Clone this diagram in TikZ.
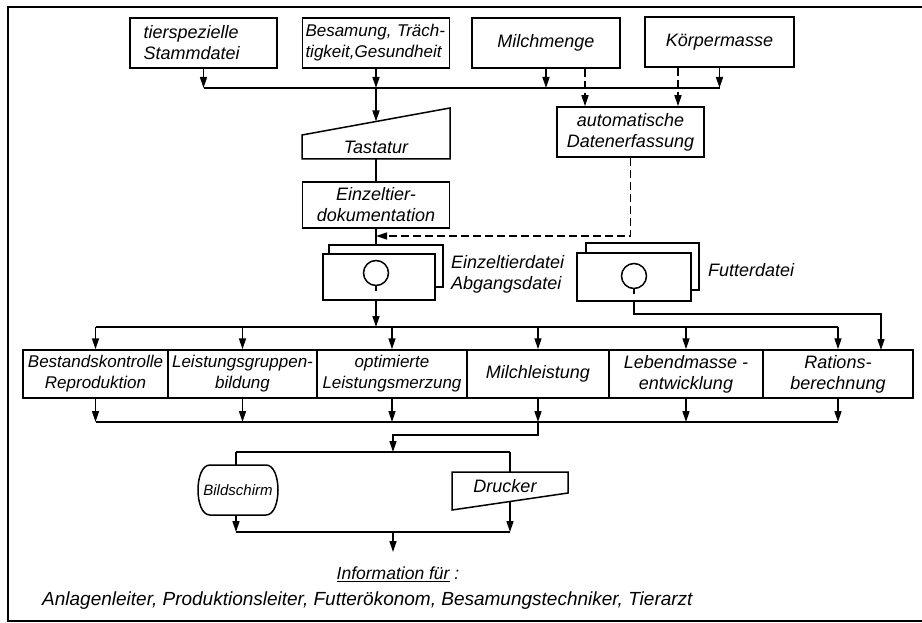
\documentclass[tikz,border=0pt]{standalone}
\usepackage{fontspec}
\setmainfont{Liberation Sans}
\usetikzlibrary{arrows.meta}
\newcommand\dgfont{\itshape\fontsize{17}{21}\selectfont}
\newcommand\topfont{\itshape\fontsize{18}{21}\selectfont}
\begin{document}
\begin{tikzpicture}[x=1pt,y=-1pt,
  lw/.style={line width=1.5pt},
  box/.style={draw,lw,inner sep=2pt,font=\dgfont,align=center},
  tbox/.style={box,font=\topfont},
  lab/.style={font=\dgfont,inner sep=0pt,align=left},
  tip/.style={-{Triangle[length=11pt,width=7pt]}},
  arr/.style={lw,tip},
  dsh/.style={lw,dash pattern=on 8pt off 4pt},
]
\useasboundingbox (0,0) rectangle (922,623);
\draw[line width=2.2pt] (922,7) -- (8,7) -- (8,621) -- (922,621);

% top boxes
\node[tbox,minimum width=147pt,minimum height=50pt,text width=120pt,align=left] (b1) at (203.5,43) {tierspezielle\\Stammdatei};
\node[box,minimum width=147pt,minimum height=50pt,text width=141pt,align=left] (b2) at (376,43) {Besamung, Träch-\\tigkeit,Gesundheit};
\node[tbox,minimum width=148pt,minimum height=50pt] (b3) at (546,43) {Milchmenge};
\node[tbox,minimum width=149pt,minimum height=50pt] (b4) at (719.5,42) {Körpermasse};

\coordinate (busA) at (203.5,88);
\coordinate (busB) at (719.5,88);
\draw[lw] (busA) -- (busB);
\draw[arr] (b1.south) -- (busA);
\draw[arr] (b2.south) -- (b2.south |- busA);
\draw[arr] (b3.south) -- (b3.south |- busA);
\draw[arr] (b4.south) -- (busB);

% automatic data capture
\node[tbox,minimum width=147pt,minimum height=50pt] (de) at (630.5,132) {automatische\\Datenerfassung};
\draw[dsh,tip] ([xshift=39pt]b3.south) -- ([xshift=39pt]b3.south |- de.north);
\draw[dsh,tip] ([xshift=-41.5pt]b4.south) -- ([xshift=-41.5pt]b4.south |- de.north);

% keyboard
\draw[lw] (302,135) -- (450,108) -- (450,159) -- (302,159) -- cycle;
\node[lab,font=\topfont] (ta) at (376,147) {Tastatur};
\coordinate (taTop) at (376,121.5);
\coordinate (taBot) at (376,159);
\draw[arr] (b2.south |- busA) -- (taTop);

% documentation
\node[tbox,minimum width=147pt,minimum height=46pt] (ed) at (376,205) {Einzeltier-\\dokumentation};
\draw[lw] (taBot) -- (ed.north);

% file 1
\node[draw,lw,minimum width=112pt,minimum height=46pt,inner sep=0pt] (f1) at (379,277) {};
\draw[lw] (329,254) -- (329,245) -- (443,245) -- (443,287) -- (435,287);
\draw[lw] (376,273) circle[radius=12.5pt];
\draw[lw] (376,285.5) -- (376,291);
\coordinate (f1in) at (376,245);
\draw[lw] (ed.south) -- (f1in);
\coordinate (ret) at (376,236);
\draw[dsh,tip] (de.south) |- (ret);
\node[lab,anchor=west,font=\topfont] (f1l) at (451,274) {Einzeltierdatei\\Abgangsdatei};

% file 2
\node[draw,lw,minimum width=114pt,minimum height=48pt,inner sep=0pt] (f2) at (634,277) {};
\draw[lw] (586,253) -- (586,243) -- (699,243) -- (699,290) -- (691,290);
\draw[lw] (634,276) circle[radius=12.5pt];
\draw[lw] (634,288.5) -- (634,294);
\node[lab,anchor=west,font=\topfont] (f2l) at (708,270) {Futterdatei};

% evaluation row
\node[box,minimum width=145pt,minimum height=48pt] (r1) at (95.5,374) {Bestandskontrolle\\Reproduktion};
\node[box,minimum width=149pt,minimum height=48pt] (r2) at (242.5,374) {Leistungsgruppen-\\bildung};
\node[box,minimum width=150pt,minimum height=48pt] (r3) at (392,374) {optimierte\\Leistungsmerzung};
\node[box,minimum width=142pt,minimum height=48pt,font=\topfont] (r4) at (538,374) {Milchleistung};
\node[box,minimum width=154pt,minimum height=48pt,font=\topfont] (r5) at (686,374) {Lebendmasse -\\entwicklung};
\node[box,minimum width=150pt,minimum height=48pt,font=\topfont] (r6) at (838,374) {Rations-\\berechnung};

\coordinate (c2L) at (95.5,327);
\coordinate (c2R) at (838,327);
\draw[lw] (c2L) -- (c2R);
\draw[arr] (f1.south -| f1in) -- (f1in |- c2L);
\foreach \r in {r1,r2,r3,r4,r5,r6} {\draw[arr] (\r.north |- c2L) -- (\r.north);}
\coordinate (rin) at (881,350);
\draw[arr] (f2.south) -- ++(0,12) -| (rin);

\coordinate (c3L) at (95.5,422);
\coordinate (c3R) at (838,422);
\draw[lw] (c3L) -- (c3R);
\foreach \r in {r1,r2,r3,r4,r5,r6} {\draw[arr] (\r.south) -- (\r.south |- c3L);}

% output
\coordinate (oA) at (393,452);
\draw[arr] (r4.south |- c3L) -- ++(0,13) -| (oA);
\coordinate (oL) at (236,452);
\coordinate (oR) at (510,452);
\draw[lw] (oL) -- (oR);

\draw[lw] (210,465) -- (266,465) .. controls (282,465) and (282,515) .. (266,515) -- (210,515) .. controls (194,515) and (194,465) .. (210,465) -- cycle;
\node[lab,font=\itshape\fontsize{15}{18}\selectfont] (bs) at (238,490) {Bildschirm};
\coordinate (bsTop) at (236,465);
\coordinate (bsBot) at (236,515);
\draw[lw] (oL) -- (bsTop);

\draw[lw] (452,472) -- (568,472) -- (568,493) -- (452,510) -- cycle;
\node[lab,font=\topfont] (dr) at (505,486) {Drucker};
\coordinate (drTop) at (510,472);
\coordinate (drBot) at (510,501.6);
\draw[lw] (oR) -- (drTop);

\coordinate (c4L) at (236,532);
\coordinate (c4R) at (510,532);
\draw[lw] (c4L) -- (c4R);
\draw[arr] (bsBot) -- (c4L);
\draw[arr] (drBot) -- (c4R);
\coordinate (iA) at (393,532);
\coordinate (iB) at (393,552);
\draw[arr] (iA) -- (iB);
\node[lab,font=\itshape\fontsize{17.5}{21}\selectfont] (info) at (398,574) {\underline{Information für} :};

\node[font=\itshape\fontsize{19}{22}\selectfont,anchor=west,inner sep=0pt] (aud) at (42,601) {Anlagenleiter, Produktionsleiter, Futterökonom, Besamungstechniker, Tierarzt};
\end{tikzpicture}
\end{document}
